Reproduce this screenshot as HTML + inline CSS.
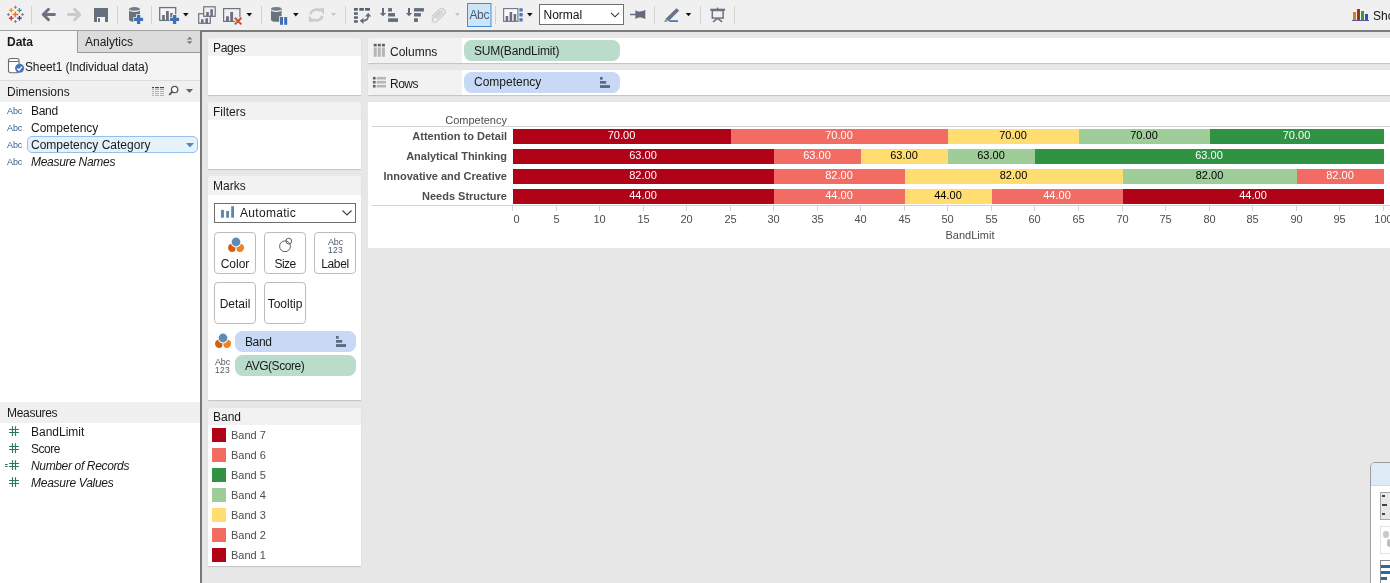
<!DOCTYPE html>
<html>
<head>
<meta charset="utf-8">
<title>Tableau - Sheet1</title>
<style>
*{box-sizing:border-box;margin:0;padding:0}
html,body{width:1390px;height:583px;overflow:hidden;background:#e7e7e7}
body{position:relative;font-family:"Liberation Sans","DejaVu Sans",sans-serif;font-size:12px;color:#1a1a1a}
.abs{position:absolute}
.ui{font-family:"Liberation Sans","DejaVu Sans",sans-serif;font-size:12px;color:#1a1a1a;white-space:nowrap;line-height:14px}
#toolbar{left:0;top:0;width:1390px;height:30px;background:#f0f0f0}
#tbline{left:0;top:30px;width:200px;height:1px;background:#a2a2a2}
#tbline2{left:200px;top:30px;width:1190px;height:2px;background:#7c7c7c}
#left{left:0;top:31px;width:200px;height:552px;background:#f4f4f4}
#leftborder{left:200px;top:30px;width:2px;height:553px;background:#787878}
#tabdata{left:0;top:31px;width:77px;height:22px;background:#f4f4f4}
#tabana{left:77px;top:31px;width:123px;height:22px;background:#dcdcdc;border-left:1px solid #9a9a9a;border-bottom:1px solid #9a9a9a}
.hdr{background:#f0f0f0}
.white{background:#fff}
.card{background:#fff;border-radius:4px 4px 0 0;box-shadow:0 1px 1px rgba(0,0,0,.16)}
.cardhdr{background:#f2f2f2;border-radius:4px 4px 0 0}
.mbtn{width:42px;height:42px;background:#fff;border:1px solid #bcbcbc;border-radius:4px}
.pill{border-radius:7.500px;height:19px}
.pill.green{background:#badccb}
.pill.blue{background:#c7d9f4}
.chart{font-family:"Liberation Sans",sans-serif;font-size:11px;white-space:nowrap;line-height:12px}
.rowlab{font-weight:bold;color:#4d4d4d;text-align:right;width:139px;left:368px}
.bar{height:15px}
.val{text-align:center;font-size:11px;line-height:13px;padding-right:1px;overflow:hidden}
.tick{color:#4d4d4d;width:30px;text-align:center;top:213px}
.leg{color:#4d4d4d;left:231px;font-size:11px}
.sw{left:212px;width:14px;height:14px}
</style>
</head>
<body>
<!-- toolbar -->
<div class="abs" id="toolbar"></div>
<div class="abs" id="tbline"></div>
<div class="abs" id="tbline2"></div>
<!-- toolbar icons -->
<svg class="abs" style="left:0;top:0" width="1390" height="30" viewBox="0 0 1390 30">
<g stroke="#d2d2d2" stroke-width="1">
<path d="M31.5 6V24M117.5 6V24M151.5 6V24M261.5 6V24M345.5 6V24M495.5 6V24M654.5 6V24M700.5 6V24M734.5 6V24"/>
</g>
<!-- tableau logo -->
<g fill="none" stroke-width="1.3">
<path d="M15.4 11.7V17.3M12.6 14.5H18.2" stroke="#e8762d" stroke-width="1.5"/>
<path d="M11.2 8V12.6M8.9 10.3H13.5" stroke="#eb9129"/>
<path d="M19.5 8V12.6M17.2 10.3H21.8" stroke="#59879b"/>
<path d="M11.2 15.9V20.5M8.9 18.2H13.5" stroke="#c72037"/>
<path d="M19.5 15.9V20.5M17.2 18.2H21.8" stroke="#1f457e"/>
<path d="M15.4 5.8V8.8M13.9 7.3H16.9M15.4 20V23M13.9 21.5H16.9M8.4 13V16M6.9 14.5H9.9M22.5 13V16M21 14.5H24" stroke="#7b8896" stroke-width="1.1"/>
</g>
<!-- back / forward -->
<path d="M54.5 14.5H43.5M48.5 9.2L43.2 14.5L48.5 19.8" fill="none" stroke="#6b7380" stroke-width="2.9" stroke-linecap="round" stroke-linejoin="round"/>
<path d="M68.5 14.5H79.5M74.5 9.2L79.8 14.5L74.5 19.8" fill="none" stroke="#cacaca" stroke-width="2.9" stroke-linecap="round" stroke-linejoin="round"/>
<!-- save -->
<rect x="94" y="8" width="14" height="14" fill="#666f7d"/>
<rect x="97" y="17" width="8" height="5" fill="#f4f4f4"/>
<rect x="98" y="18.3" width="2" height="3.7" fill="#666f7d"/>
<!-- db plus -->
<path d="M129 9.300V19.500A5.500 2.300 0 0 0 140 19.500V9.300Z" fill="#6a727e"/>
<ellipse cx="134.500" cy="9.300" rx="5.500" ry="2.300" fill="#747c88"/>
<path d="M129.300 10A5.400 1.900 0 0 0 139.700 10" fill="none" stroke="#f4f4f4" stroke-width="1.200"/>
<path d="M138.600 14.200V24.600M133.400 19.400H143.800" stroke="#f0f0f0" stroke-width="5"/>
<path d="M138.600 14.900V23.900M134.100 19.400H143.100" stroke="#416fb6" stroke-width="3.300"/>
<!-- new worksheet -->
<rect x="159.700" y="7.600" width="16" height="12.800" fill="#f7f7f7" stroke="#6e747d" stroke-width="1.300"/>
<path d="M162.100 15.100h2.700v5h-2.700zM166 11h2.800v9.100h-2.800zM170.200 13h2.700v7.100h-2.700z" fill="#6b727d"/>
<path d="M174.600 14.200V24.600M169.400 19.400H179.800" stroke="#f0f0f0" stroke-width="5"/>
<path d="M174.600 14.900V23.900M170.100 19.400H179.100" stroke="#416fb6" stroke-width="3.300"/>
<path d="M183 13h5.600l-2.800 3.400z" fill="#111"/>
<!-- duplicate -->
<rect x="198.700" y="13.700" width="11.600" height="9.600" fill="none" stroke="#6b7380" stroke-width="1.200"/>
<path d="M201 19.300h2.600v4.200h-2.600zM205.400 18.300h2.600v5.200h-2.600z" fill="#6b7380"/>
<rect x="203.700" y="6.800" width="11.500" height="9.500" fill="#f0f0f0" stroke="#6b7380" stroke-width="1.200"/>
<path d="M206.200 12.100h2.600v4.400h-2.600zM210.300 9.300h2.600v7.200h-2.600z" fill="#6b7380"/>
<!-- clear -->
<rect x="223.600" y="8.600" width="16.300" height="12.800" fill="none" stroke="#6b7380" stroke-width="1.200"/>
<path d="M226 16.200h2.900v5.300h-2.900zM230.200 12.100h2.900v9.400h-2.900z" fill="#6b7380"/>
<path d="M234.800 17.800L241.400 24.400M241.400 17.800L234.800 24.400" stroke="#f0f0f0" stroke-width="3.800"/>
<path d="M234.800 17.800L241.400 24.400M241.400 17.800L234.800 24.400" stroke="#c8532e" stroke-width="2"/>
<path d="M246.500 13h5.600l-2.800 3.400z" fill="#111"/>
<!-- db pause -->
<path d="M271 9.300V19.500A5.300 2.300 0 0 0 281.600 19.500V9.300Z" fill="#6a727e"/>
<ellipse cx="276.300" cy="9.300" rx="5.300" ry="2.300" fill="#747c88"/>
<path d="M271.300 10A5.200 1.900 0 0 0 281.300 10" fill="none" stroke="#f4f4f4" stroke-width="1.200"/>
<rect x="279.200" y="16.200" width="8.600" height="9.200" fill="#f0f0f0"/>
<rect x="280" y="17" width="3" height="7.800" fill="#416fb6"/>
<rect x="284.200" y="17" width="3" height="7.800" fill="#416fb6"/>
<path d="M293 13h5.600l-2.800 3.400z" fill="#111"/>
<!-- refresh (disabled) -->
<g fill="none" stroke="#cbcbcb" stroke-width="2.500">
<path d="M310.500 14.300A5.900 5 0 0 1 320 10.700"/>
<path d="M322.300 15.700A5.900 5 0 0 1 312.800 19.300"/>
</g>
<path d="M318 8.400L324 8.100V14.400Z" fill="#cbcbcb"/>
<path d="M314.800 21.600L308.800 21.900V15.600Z" fill="#cbcbcb"/>
<path d="M331 13h5l-2.500 3z" fill="#c4c4c4"/>
<!-- swap -->
<g fill="#56616f">
<rect x="354" y="8" width="3.800" height="2.700"/><rect x="359.300" y="8" width="4.600" height="2.700"/><rect x="365.100" y="8" width="4.800" height="2.700"/>
<rect x="354" y="12.300" width="3.800" height="2.500"/><rect x="354" y="16.300" width="3.800" height="2.500"/><rect x="354" y="20.200" width="3.800" height="2.500"/>
</g>
<path d="M363 20.800C366.800 20.600 368.200 18.800 368.200 16" fill="none" stroke="#6a6e74" stroke-width="1.700"/>
<path d="M359.700 20.800L363.500 17.700V23.900Z" fill="#6a6e74"/>
<path d="M368.200 12.800L371.400 16.600H365Z" fill="#6a6e74"/>
<!-- sort asc -->
<g fill="#626c7a">
<rect x="388.100" y="8.100" width="3.900" height="3.400"/><rect x="388.100" y="13.100" width="6.900" height="3.400"/><rect x="388.100" y="18.300" width="9.900" height="3.600"/>
<rect x="414" y="8.100" width="9.900" height="3.400"/><rect x="414" y="13.100" width="6.900" height="3.400"/><rect x="414" y="18.300" width="3.900" height="3.600"/>
</g>
<path d="M382 8.100h2V13h2.100L383 16.200L379.900 13H382zM408 8.100h2V13h2.100L409 16.200L405.900 13H408z" fill="#626c7a"/>
<!-- paperclip (disabled) -->
<g transform="translate(-1.200,.3)">
<path d="M436.200 17.300L441.600 12.200M441.600 12.200" fill="none" stroke="#cbcbcb" stroke-width="1.200"/>
<path d="M437.500 18.600L443.300 13.100A1.300 1.300 0 0 0 441.400 11.200L434.300 18A2.300 2.300 0 0 0 437.600 21.300L445.300 13.900A3.300 3.300 0 0 0 440.600 9.200L433 16.500" fill="none" stroke="#cbcbcb" stroke-width="1.300"/>
</g>
<path d="M455 13h4.800l-2.400 2.900z" fill="#c4c4c4"/>
<!-- Abc button -->
<rect x="467.500" y="3.500" width="23.500" height="23" fill="#cce4f7" stroke="#3c8fdd" stroke-width="1"/>
<text x="479.300" y="19" font-family="Liberation Sans, sans-serif" font-size="12" fill="#4b5a70" text-anchor="middle" letter-spacing="-0.3">Abc</text>
<!-- chart type -->
<rect x="503.600" y="8.600" width="14.300" height="12.800" fill="#fbfbfb" stroke="#767e8a" stroke-width="1.200"/>
<path d="M505.600 16h2.600v5h-2.600zM509.600 12h2.600v9h-2.600zM513.600 14h2.600v7h-2.600z" fill="#667080"/>
<path d="M519.400 8.200h3.300v3.300h-3.300zM519.400 13.100h3.300v3.300h-3.300zM519.400 18.200h3.300v3.300h-3.300z" fill="#4a78b8"/>
<path d="M527 13h5.600l-2.800 3.400z" fill="#111"/>
<!-- combobox -->
<rect x="539.500" y="4.500" width="84" height="20" fill="#fff" stroke="#707070" stroke-width="1"/>
<text x="543.500" y="19" font-family="Liberation Sans, sans-serif" font-size="12" fill="#111">Normal</text>
<path d="M611 12.800L615 16.800L619 12.800" fill="none" stroke="#333" stroke-width="1.100"/>
<!-- pin -->
<path d="M630 14.500H636" stroke="#667080" stroke-width="1.500"/>
<path d="M635.400 9.900C637.500 11.800 641.500 12.300 645.300 9.800V19.100C641.500 16.700 637.500 17.100 635.400 19Z" fill="#626c7a"/>
<!-- highlighter -->
<path d="M676.400 8.200L679.200 10.400L668.600 21.300L665.400 18.900Z" fill="#6a7482"/>
<path d="M665.200 19.400L667.800 21.500L664.200 21.800Z" fill="#6a7482"/>
<path d="M669.300 21.100H678" stroke="#3f6fc0" stroke-width="1.700"/>
<path d="M685.800 12.900h5.400l-2.700 3.300z" fill="#111"/>
<!-- presentation -->
<rect x="710.200" y="8.700" width="14.900" height="2.100" fill="#6a7482"/>
<rect x="716.800" y="7.600" width="1.600" height="1.500" fill="#6a7482"/>
<rect x="712.300" y="10.500" width="10.800" height="7.600" fill="none" stroke="#6a7482" stroke-width="1.500"/>
<path d="M717.600 18.300L713 21.800M717.600 18.300L722.200 21.800" stroke="#6a7482" stroke-width="1.500" fill="none"/>
<!-- show me -->
<rect x="1353" y="12" width="3" height="8" fill="#c8861a"/>
<rect x="1357" y="9" width="3" height="11" fill="#9a3412"/>
<rect x="1361" y="11" width="3" height="9" fill="#3a9a3a"/>
<rect x="1365" y="14" width="3" height="6" fill="#2a4ae0"/>
<path d="M1352 20.500H1369" stroke="#5a5a9a" stroke-width="1"/>
<text x="1373" y="19.500" font-family="Liberation Sans, sans-serif" font-size="12" fill="#111">Show Me</text>
</svg>

<!-- left data pane -->
<div class="abs" id="left"></div>
<div class="abs" id="tabdata"></div>
<div class="abs" id="tabana"></div>
<div class="abs ui" style="left:7px;top:35px;font-weight:bold">Data</div>
<div class="abs ui" style="left:85px;top:35px">Analytics</div>
<div class="abs ui" style="left:25px;top:60px;letter-spacing:-0.14px">Sheet1 (Individual data)</div>
<div class="abs" style="left:0;top:80px;width:200px;height:1px;background:#dcdcdc"></div>
<div class="abs hdr" style="left:0;top:81px;width:200px;height:21px"></div>
<div class="abs ui" style="left:7px;top:85px">Dimensions</div>
<div class="abs white" style="left:0;top:102px;width:200px;height:300px"></div>
<div class="abs hdr" style="left:0;top:402px;width:200px;height:21px"></div>
<div class="abs ui" style="left:7px;top:406px;letter-spacing:-0.3px">Measures</div>
<div class="abs white" style="left:0;top:423px;width:200px;height:160px"></div>
<div class="abs" id="leftborder"></div>

<!-- middle cards -->
<div class="abs card" style="left:208px;top:38px;width:153px;height:57px"></div>
<div class="abs cardhdr" style="left:208px;top:38px;width:153px;height:18px"></div>
<div class="abs ui" style="left:213px;top:41px;letter-spacing:-0.35px">Pages</div>
<div class="abs card" style="left:208px;top:102px;width:153px;height:67px"></div>
<div class="abs cardhdr" style="left:208px;top:102px;width:153px;height:18px"></div>
<div class="abs ui" style="left:213px;top:105px">Filters</div>
<div class="abs card" style="left:208px;top:176px;width:153px;height:224px"></div>
<div class="abs cardhdr" style="left:208px;top:176px;width:153px;height:19px"></div>
<div class="abs ui" style="left:213px;top:179px">Marks</div>
<div class="abs" style="left:214px;top:203px;width:142px;height:20px;background:#fff;border:1px solid #6e6e6e"></div>
<svg class="abs" style="left:220px;top:206px" width="16" height="14" viewBox="0 0 16 14"><rect x="1" y="3.900" width="2.900" height="7.800" fill="#5b87ad"/><rect x="6.200" y="5" width="2.800" height="6.700" fill="#5b87ad"/><rect x="11.200" y=".2" width="2.800" height="11.500" fill="#5b87ad"/></svg>
<div class="abs ui" style="left:240px;top:206px;letter-spacing:0.3px">Automatic</div>
<svg class="abs" style="left:341px;top:209px" width="12" height="8" viewBox="0 0 12 8"><path d="M1.5 1.5 L6 6 L10.5 1.5" fill="none" stroke="#444" stroke-width="1.2"/></svg>
<div class="abs mbtn" style="left:214px;top:232px"></div>
<div class="abs ui" style="left:214px;top:257px;width:42px;text-align:center">Color</div>
<div class="abs mbtn" style="left:264px;top:232px"></div>
<div class="abs ui" style="left:264px;top:257px;width:42px;text-align:center;letter-spacing:-0.6px">Size</div>
<div class="abs mbtn" style="left:314px;top:232px"></div>
<div class="abs ui" style="left:314px;top:257px;width:42px;text-align:center;letter-spacing:-0.4px">Label</div>
<div class="abs mbtn" style="left:214px;top:282px"></div>
<div class="abs ui" style="left:214px;top:297px;width:42px;text-align:center">Detail</div>
<div class="abs mbtn" style="left:264px;top:282px"></div>
<div class="abs ui" style="left:264px;top:297px;width:42px;text-align:center">Tooltip</div>
<div class="abs pill blue" style="left:235px;top:331px;width:121px;height:21px"></div>
<div class="abs ui" style="left:245px;top:335px;letter-spacing:-0.4px">Band</div>
<div class="abs pill green" style="left:235px;top:355px;width:121px;height:21px"></div>
<div class="abs ui" style="left:245px;top:359px;letter-spacing:-0.46px">AVG(Score)</div>
<div class="abs card" style="left:208px;top:408px;width:153px;height:158px"></div>
<div class="abs cardhdr" style="left:208px;top:408px;width:153px;height:17px"></div>
<div class="abs ui" style="left:213px;top:410px">Band</div>
<div class="abs sw" style="top:428px;background:#b10318"></div>
<div class="abs chart leg" style="top:429px">Band 7</div>
<div class="abs sw" style="top:448px;background:#f26c64"></div>
<div class="abs chart leg" style="top:449px">Band 6</div>
<div class="abs sw" style="top:468px;background:#309343"></div>
<div class="abs chart leg" style="top:469px">Band 5</div>
<div class="abs sw" style="top:488px;background:#9fcd99"></div>
<div class="abs chart leg" style="top:489px">Band 4</div>
<div class="abs sw" style="top:508px;background:#ffdd71"></div>
<div class="abs chart leg" style="top:509px">Band 3</div>
<div class="abs sw" style="top:528px;background:#f26c64"></div>
<div class="abs chart leg" style="top:529px">Band 2</div>
<div class="abs sw" style="top:548px;background:#b10318"></div>
<div class="abs chart leg" style="top:549px">Band 1</div>
<!-- shelves -->
<div class="abs card" style="left:368px;top:38px;width:1030px;height:25px"></div>
<div class="abs" style="left:368px;top:38px;width:94px;height:25px;background:#f2f2f2;border-radius:3px 0 0 3px"></div>
<div class="abs ui" style="left:390px;top:45px">Columns</div>
<div class="abs pill green" style="left:464px;top:40px;width:156px;height:21px"></div>
<div class="abs ui" style="left:474px;top:44px;letter-spacing:-0.2px">SUM(BandLimit)</div>
<div class="abs card" style="left:368px;top:70px;width:1030px;height:25px"></div>
<div class="abs" style="left:368px;top:70px;width:94px;height:25px;background:#f2f2f2;border-radius:3px 0 0 3px"></div>
<div class="abs ui" style="left:390px;top:77px;letter-spacing:-0.5px">Rows</div>
<div class="abs pill blue" style="left:464px;top:72px;width:156px;height:21px"></div>
<div class="abs ui" style="left:474px;top:75px">Competency</div>
<!-- data pane lists -->
<div class="abs ui" style="left:7px;top:104px;font-size:9px;color:#3b6393;letter-spacing:-0.1px">Abc</div>
<div class="abs ui" style="left:31px;top:104px;letter-spacing:-0.3px">Band</div>
<div class="abs ui" style="left:7px;top:121px;font-size:9px;color:#3b6393;letter-spacing:-0.1px">Abc</div>
<div class="abs ui" style="left:31px;top:121px">Competency</div>
<div class="abs" style="left:27px;top:136px;width:171px;height:17px;background:#e5f1fb;border:1px solid #94c0ec;border-radius:5px"></div>
<svg class="abs" style="left:186px;top:143px" width="8" height="5" viewBox="0 0 8 5"><path d="M0 0 H8 L4 4.5 Z" fill="#5b86b0"/></svg>
<div class="abs ui" style="left:7px;top:138px;font-size:9px;color:#3b6393;letter-spacing:-0.1px">Abc</div>
<div class="abs ui" style="left:31px;top:138px">Competency Category</div>
<div class="abs ui" style="left:7px;top:155px;font-size:9px;color:#3b6393;letter-spacing:-0.1px">Abc</div>
<div class="abs ui" style="left:31px;top:155px;font-style:italic;letter-spacing:-0.3px">Measure Names</div>
<div class="abs ui" style="left:31px;top:425px">BandLimit</div>
<svg class="abs" style="left:8px;top:426px" width="12" height="11" viewBox="0 0 12 11"><path d="M4.500 .2V9.900M7.500 .2V9.900M1 3.500H11M1 6.500H11" stroke="#2b7a5c" stroke-width="1.150" fill="none"/></svg>
<div class="abs ui" style="left:31px;top:442px;letter-spacing:-0.5px">Score</div>
<svg class="abs" style="left:8px;top:443px" width="12" height="11" viewBox="0 0 12 11"><path d="M4.500 .2V9.900M7.500 .2V9.900M1 3.500H11M1 6.500H11" stroke="#2b7a5c" stroke-width="1.150" fill="none"/></svg>
<div class="abs ui" style="left:31px;top:459px;font-style:italic;letter-spacing:-0.35px">Number of Records</div>
<svg class="abs" style="left:8px;top:460px" width="12" height="11" viewBox="0 0 12 11"><path d="M4.500 .2V9.900M7.500 .2V9.900M1 3.500H11M1 6.500H11" stroke="#2b7a5c" stroke-width="1.150" fill="none"/></svg>
<svg class="abs" style="left:5px;top:463px" width="4" height="5" viewBox="0 0 4 5"><path d="M0 1.500H2.700M0 3.500H2.700" stroke="#2b7a5c" stroke-width="1"/></svg>
<div class="abs ui" style="left:31px;top:476px;font-style:italic;letter-spacing:-0.27px">Measure Values</div>
<svg class="abs" style="left:8px;top:477px" width="12" height="11" viewBox="0 0 12 11"><path d="M4.500 .2V9.900M7.500 .2V9.900M1 3.500H11M1 6.500H11" stroke="#2b7a5c" stroke-width="1.150" fill="none"/></svg>
<!-- misc icons -->
<svg class="abs" style="left:186px;top:36px" width="8" height="9" viewBox="0 0 8 9"><path d="M0.800 3.600L3.600 0.800L6.400 3.600ZM0.800 5.300L3.600 8.100L6.400 5.300Z" fill="#777"/></svg>
<svg class="abs" style="left:6px;top:56px" width="20" height="19" viewBox="0 0 20 19"><rect x="2.500" y="2.500" width="10.500" height="14.200" rx="2.200" fill="#fff" stroke="#6a6a6a" stroke-width="1.100"/><path d="M3 5.500H12.500" stroke="#6a6a6a" stroke-width="1"/><circle cx="13.600" cy="12.300" r="4.500" fill="#4775ba"/><path d="M11.300 12.400L13 14.200L16 10.600" fill="none" stroke="#fff" stroke-width="1.400"/></svg>
<svg class="abs" style="left:150px;top:84px" width="46" height="14" viewBox="0 0 46 14"><g fill="#444"><rect x="2" y="3" width="2" height="1.200"/><rect x="5" y="3" width="4" height="1.200"/><rect x="10" y="3" width="4" height="1.200"/></g><g fill="#9a9a9a"><path d="M2 5.200h2v.9h-2zM5 5.200h4v.9h-4zM10 5.200h4v.9h-4zM2 7.200h2v.9h-2zM5 7.200h4v.9h-4zM10 7.200h4v.9h-4zM2 9.200h2v.9h-2zM5 9.200h4v.9h-4zM10 9.200h4v.9h-4zM2 11.200h2v.9h-2zM5 11.200h4v.9h-4zM10 11.200h4v.9h-4z"/></g><circle cx="24.600" cy="5.500" r="3.200" fill="#fdfdfd" stroke="#555" stroke-width="1.300"/><path d="M22.300 7.900L19.700 10.400" stroke="#555" stroke-width="1.900" stroke-linecap="round"/><path d="M36 5h7l-3.500 4z" fill="#666"/></svg>
<svg class="abs" style="left:373px;top:43px" width="13" height="15" viewBox="0 0 13 15"><g fill="#626262"><rect x=".7" y=".8" width="3" height="2.600"/><rect x="4.800" y=".8" width="3" height="2.600"/><rect x="8.900" y=".8" width="3" height="2.600"/></g><g fill="#b6b6b6"><rect x=".7" y="4.400" width="3" height="9.400"/><rect x="4.800" y="4.400" width="3" height="9.400"/><rect x="8.900" y="4.400" width="3" height="9.400"/></g></svg>
<svg class="abs" style="left:372px;top:76px" width="15" height="13" viewBox="0 0 15 13"><g fill="#626262"><rect x=".9" y=".9" width="2.700" height="2.600"/><rect x=".9" y="4.900" width="2.700" height="2.600"/><rect x=".9" y="8.900" width="2.700" height="2.600"/></g><g fill="#b6b6b6"><rect x="4.700" y=".9" width="9.300" height="2.600"/><rect x="4.700" y="4.900" width="9.300" height="2.600"/><rect x="4.700" y="8.900" width="9.300" height="2.600"/></g></svg>
<svg class="abs" style="left:600px;top:77px" width="11" height="12" viewBox="0 0 11 12"><g fill="#5d6b80"><rect x="0" y="0" width="2.700" height="2.700"/><rect x="0" y="4" width="6.200" height="2.700"/><rect x="0" y="8.100" width="10" height="2.900"/></g></svg>
<svg class="abs" style="left:336px;top:336px" width="11" height="12" viewBox="0 0 11 12"><g fill="#5d6b80"><rect x="0" y="0" width="2.700" height="2.700"/><rect x="0" y="4" width="6.200" height="2.700"/><rect x="0" y="8.100" width="10" height="2.900"/></g></svg>
<svg class="abs" style="left:225.5px;top:236.3px" width="20" height="18" viewBox="0 0 20 18"><circle cx="6.200" cy="11.700" r="4.200" fill="#d4600f"/><circle cx="13.900" cy="11.700" r="4.200" fill="#f08325"/><circle cx="10" cy="6" r="5.400" fill="#fff"/><circle cx="10" cy="6" r="4.400" fill="#5b8db8"/><path d="M10 11.200V16.500" stroke="#fff" stroke-width="1.100"/></svg>
<svg class="abs" style="left:212.6px;top:332.2px" width="20" height="18" viewBox="0 0 20 18"><circle cx="6.200" cy="11.700" r="4.200" fill="#d4600f"/><circle cx="13.900" cy="11.700" r="4.200" fill="#f08325"/><circle cx="10" cy="6" r="5.400" fill="#fff"/><circle cx="10" cy="6" r="4.400" fill="#5b8db8"/><path d="M10 11.200V16.500" stroke="#fff" stroke-width="1.100"/></svg>
<svg class="abs" style="left:277px;top:236px" width="17" height="18" viewBox="0 0 17 18"><circle cx="8" cy="10.300" r="5.400" fill="none" stroke="#5a616c" stroke-width="1"/><circle cx="11.800" cy="5.100" r="2.900" fill="none" stroke="#5a616c" stroke-width="1"/></svg>
<div class="abs ui" style="left:325.5px;top:237.5px;width:20px;text-align:center;font-size:9px;line-height:8px;color:#505a68;letter-spacing:-0.2px">Abc<br><span style="font-size:8.500px;letter-spacing:.3px">123</span></div>
<div class="abs ui" style="left:212.5px;top:358px;width:20px;text-align:center;font-size:9px;line-height:8px;color:#505a68;letter-spacing:-0.2px">Abc<br><span style="font-size:8.500px;letter-spacing:.3px">123</span></div>
<!-- show me card -->
<div class="abs" style="left:1370px;top:462px;width:30px;height:130px;background:#fff;border:1px solid #9d9d9d;border-radius:5px 0 0 0;overflow:hidden"><div style="height:23px;background:#dfeaf7;border-bottom:1px solid #cfd9e6"></div></div>
<div class="abs" style="left:1380px;top:492px;width:20px;height:28px;background:#e8e8e8;border:1px solid #a8a8a8"></div>
<div class="abs" style="left:1382px;top:495px;width:3px;height:2px;background:#444"></div><div class="abs" style="left:1382px;top:504px;width:5px;height:2px;background:#444"></div><div class="abs" style="left:1382px;top:513px;width:3px;height:2px;background:#444"></div>
<div class="abs" style="left:1380px;top:526px;width:20px;height:28px;background:#fff;border:1px solid #e2e2e2"></div>
<div class="abs" style="left:1383px;top:531px;width:6px;height:7px;background:#c9c9c9;border-radius:3px"></div><div class="abs" style="left:1387px;top:539px;width:6px;height:8px;background:#bdbdbd;border-radius:3px"></div>
<div class="abs" style="left:1380px;top:560px;width:20px;height:30px;background:#fff;border:1px solid #8a8a8a"></div>
<div class="abs" style="left:1381px;top:565px;width:9px;height:3px;background:#2b6a9e"></div><div class="abs" style="left:1381px;top:571px;width:9px;height:3px;background:#2b6a9e"></div><div class="abs" style="left:1381px;top:577px;width:6px;height:3px;background:#2b6a9e"></div>
<!-- viz area -->
<div class="abs white" id="viz" style="left:368px;top:102px;width:1022px;height:146px"></div>
<!-- chart -->
<div class="abs chart" style="left:368px;top:114px;width:139px;text-align:right;color:#4d4d4d">Competency</div>
<div class="abs" style="left:372px;top:126px;width:1018px;height:1px;background:#d4d4d4"></div>
<div class="abs" style="left:372px;top:205px;width:1018px;height:1px;background:#d4d4d4"></div>
<div class="abs chart rowlab" style="top:130px">Attention to Detail</div>
<div class="abs bar chart val" style="left:513px;top:129px;width:218px;background:#b10318;color:#fff">70.00</div>
<div class="abs bar chart val" style="left:731px;top:129px;width:217px;background:#f26c64;color:#fff">70.00</div>
<div class="abs bar chart val" style="left:948px;top:129px;width:131px;background:#ffdd71;color:#000">70.00</div>
<div class="abs bar chart val" style="left:1079px;top:129px;width:131px;background:#9fcd99;color:#000">70.00</div>
<div class="abs bar chart val" style="left:1210px;top:129px;width:174px;background:#309343;color:#fff">70.00</div>
<div class="abs chart rowlab" style="top:150px">Analytical Thinking</div>
<div class="abs bar chart val" style="left:513px;top:149px;width:261px;background:#b10318;color:#fff">63.00</div>
<div class="abs bar chart val" style="left:774px;top:149px;width:87px;background:#f26c64;color:#fff">63.00</div>
<div class="abs bar chart val" style="left:861px;top:149px;width:87px;background:#ffdd71;color:#000">63.00</div>
<div class="abs bar chart val" style="left:948px;top:149px;width:87px;background:#9fcd99;color:#000">63.00</div>
<div class="abs bar chart val" style="left:1035px;top:149px;width:349px;background:#309343;color:#fff">63.00</div>
<div class="abs chart rowlab" style="top:170px">Innovative and Creative</div>
<div class="abs bar chart val" style="left:513px;top:169px;width:261px;background:#b10318;color:#fff">82.00</div>
<div class="abs bar chart val" style="left:774px;top:169px;width:131px;background:#f26c64;color:#fff">82.00</div>
<div class="abs bar chart val" style="left:905px;top:169px;width:218px;background:#ffdd71;color:#000">82.00</div>
<div class="abs bar chart val" style="left:1123px;top:169px;width:174px;background:#9fcd99;color:#000">82.00</div>
<div class="abs bar chart val" style="left:1297px;top:169px;width:87px;background:#f26c64;color:#fff">82.00</div>
<div class="abs chart rowlab" style="top:190px">Needs Structure</div>
<div class="abs bar chart val" style="left:513px;top:189px;width:261px;background:#b10318;color:#fff">44.00</div>
<div class="abs bar chart val" style="left:774px;top:189px;width:131px;background:#f26c64;color:#fff">44.00</div>
<div class="abs bar chart val" style="left:905px;top:189px;width:87px;background:#ffdd71;color:#000">44.00</div>
<div class="abs bar chart val" style="left:992px;top:189px;width:131px;background:#f26c64;color:#fff">44.00</div>
<div class="abs bar chart val" style="left:1123px;top:189px;width:261px;background:#b10318;color:#fff">44.00</div>
<div class="abs" style="left:512px;top:206px;width:1px;height:5px;background:#d4d4d4"></div>
<div class="abs chart tick" style="left:501.5px">0</div>
<div class="abs" style="left:556px;top:206px;width:1px;height:5px;background:#d4d4d4"></div>
<div class="abs chart tick" style="left:541.5px">5</div>
<div class="abs" style="left:599px;top:206px;width:1px;height:5px;background:#d4d4d4"></div>
<div class="abs chart tick" style="left:584.5px">10</div>
<div class="abs" style="left:643px;top:206px;width:1px;height:5px;background:#d4d4d4"></div>
<div class="abs chart tick" style="left:628.5px">15</div>
<div class="abs" style="left:686px;top:206px;width:1px;height:5px;background:#d4d4d4"></div>
<div class="abs chart tick" style="left:671.5px">20</div>
<div class="abs" style="left:730px;top:206px;width:1px;height:5px;background:#d4d4d4"></div>
<div class="abs chart tick" style="left:715.5px">25</div>
<div class="abs" style="left:773px;top:206px;width:1px;height:5px;background:#d4d4d4"></div>
<div class="abs chart tick" style="left:758.5px">30</div>
<div class="abs" style="left:817px;top:206px;width:1px;height:5px;background:#d4d4d4"></div>
<div class="abs chart tick" style="left:802.5px">35</div>
<div class="abs" style="left:860px;top:206px;width:1px;height:5px;background:#d4d4d4"></div>
<div class="abs chart tick" style="left:845.5px">40</div>
<div class="abs" style="left:904px;top:206px;width:1px;height:5px;background:#d4d4d4"></div>
<div class="abs chart tick" style="left:889.5px">45</div>
<div class="abs" style="left:947px;top:206px;width:1px;height:5px;background:#d4d4d4"></div>
<div class="abs chart tick" style="left:932.5px">50</div>
<div class="abs" style="left:991px;top:206px;width:1px;height:5px;background:#d4d4d4"></div>
<div class="abs chart tick" style="left:976.5px">55</div>
<div class="abs" style="left:1034px;top:206px;width:1px;height:5px;background:#d4d4d4"></div>
<div class="abs chart tick" style="left:1019.5px">60</div>
<div class="abs" style="left:1078px;top:206px;width:1px;height:5px;background:#d4d4d4"></div>
<div class="abs chart tick" style="left:1063.5px">65</div>
<div class="abs" style="left:1122px;top:206px;width:1px;height:5px;background:#d4d4d4"></div>
<div class="abs chart tick" style="left:1107.5px">70</div>
<div class="abs" style="left:1165px;top:206px;width:1px;height:5px;background:#d4d4d4"></div>
<div class="abs chart tick" style="left:1150.5px">75</div>
<div class="abs" style="left:1209px;top:206px;width:1px;height:5px;background:#d4d4d4"></div>
<div class="abs chart tick" style="left:1194.5px">80</div>
<div class="abs" style="left:1252px;top:206px;width:1px;height:5px;background:#d4d4d4"></div>
<div class="abs chart tick" style="left:1237.5px">85</div>
<div class="abs" style="left:1296px;top:206px;width:1px;height:5px;background:#d4d4d4"></div>
<div class="abs chart tick" style="left:1281.5px">90</div>
<div class="abs" style="left:1339px;top:206px;width:1px;height:5px;background:#d4d4d4"></div>
<div class="abs chart tick" style="left:1324.5px">95</div>
<div class="abs" style="left:1383px;top:206px;width:1px;height:5px;background:#d4d4d4"></div>
<div class="abs chart tick" style="left:1368.5px">100</div>
<div class="abs chart" style="left:920px;top:229px;width:100px;text-align:center;color:#4d4d4d">BandLimit</div>
</body>
</html>
